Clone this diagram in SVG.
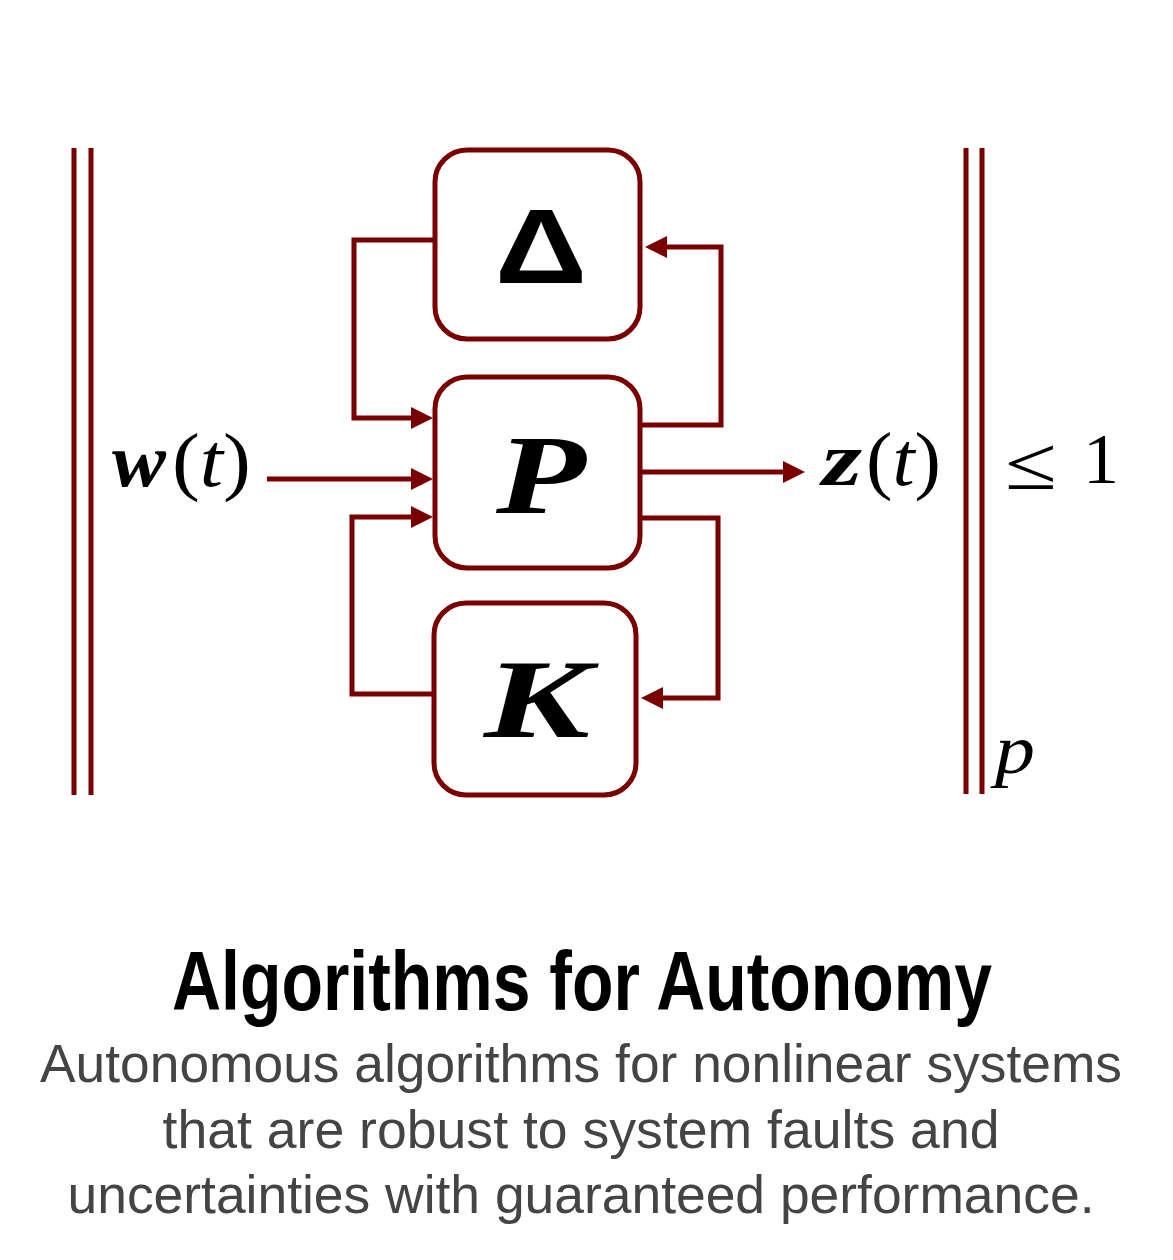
<svg xmlns="http://www.w3.org/2000/svg" width="1173" height="1260" viewBox="0 0 1173 1260">
<style>
.box{fill:#fff;stroke:#7a0000;stroke-width:5}
.bar{stroke:#7a0000;stroke-width:5;fill:none}
.con{fill:none;stroke:#7a0000;stroke-width:5;stroke-linejoin:miter}
.math{font-family:"Liberation Serif","DejaVu Serif",serif;fill:#000}
.bi{font-weight:bold;font-style:italic}
.title{font-family:"Liberation Sans",Arial,sans-serif;font-weight:bold;fill:#000}
.sub{font-family:"Liberation Sans",Arial,sans-serif;fill:#444}
</style>
<defs>
<marker id="arr" markerUnits="userSpaceOnUse" markerWidth="24" markerHeight="24" refX="12" refY="11" orient="auto">
<path d="M0,0 L22,11 L0,22 Z" fill="#7a0000"/>
</marker>
</defs>
<rect width="1173" height="1260" fill="#fff"/>

<g id="norm-bars">
<line class="bar" x1="74" y1="148" x2="74" y2="795"/>
<line class="bar" x1="91" y1="148" x2="91" y2="795"/>
<line class="bar" x1="966" y1="148" x2="966" y2="794"/>
<line class="bar" x1="982" y1="148" x2="982" y2="794"/>
</g>

<g id="connectors">
<path class="con" d="M435,240 L354,240 L354,418 L423,418" marker-end="url(#arr)"/>
<path class="con" d="M640,425 L721,425 L721,247 L655,247" marker-end="url(#arr)"/>
<path class="con" d="M267,479 L423,479" marker-end="url(#arr)"/>
<path class="con" d="M435,694 L352,694 L352,517 L423,517" marker-end="url(#arr)"/>
<path class="con" d="M638,518 L718,518 L718,698 L651,698" marker-end="url(#arr)"/>
<path class="con" d="M640,472 L795,472" marker-end="url(#arr)"/>
</g>

<g id="node-delta">
<rect class="box" x="435" y="150" width="205" height="189" rx="32"/>
<text x="495" y="283" class="title" font-size="106" textLength="92" lengthAdjust="spacingAndGlyphs">Δ</text>
</g>

<g id="node-P">
<rect class="box" x="435" y="377" width="205" height="191" rx="32"/>
<text x="496" y="513" class="math bi" font-size="112" textLength="90" lengthAdjust="spacingAndGlyphs">P</text>
</g>

<g id="node-K">
<rect class="box" x="434" y="603" width="202" height="192" rx="32"/>
<text x="484" y="737" class="math bi" font-size="112" textLength="106" lengthAdjust="spacingAndGlyphs">K</text>
</g>

<g id="label-w">
<text x="112" y="486" class="math bi" font-size="76" textLength="54" lengthAdjust="spacingAndGlyphs">w</text>
<text x="172" y="486" class="math" font-size="76" textLength="79" lengthAdjust="spacingAndGlyphs">(<tspan font-style="italic">t</tspan>)</text>
</g>

<g id="label-z">
<text x="822" y="485" class="math bi" font-size="76" textLength="40" lengthAdjust="spacingAndGlyphs">z</text>
<text x="866" y="485" class="math" font-size="76" textLength="75" lengthAdjust="spacingAndGlyphs">(<tspan font-style="italic">t</tspan>)</text>
</g>

<g id="label-leq">
<text x="1005" y="489" class="math" font-size="76" textLength="52" lengthAdjust="spacingAndGlyphs">≤</text>
<text x="1083" y="483" class="math" font-size="72">1</text>
</g>

<g id="label-p">
<text x="995" y="773" class="math" font-style="italic" font-size="70" textLength="40" lengthAdjust="spacingAndGlyphs">p</text>
</g>

<g id="caption">
<text x="582" y="1010" class="title" font-size="84" text-anchor="middle" textLength="820" lengthAdjust="spacingAndGlyphs">Algorithms for Autonomy</text>
<text x="581" y="1082" class="sub" font-size="54" text-anchor="middle" textLength="1082" lengthAdjust="spacingAndGlyphs">Autonomous algorithms for nonlinear systems</text>
<text x="581" y="1148" class="sub" font-size="54" text-anchor="middle" textLength="837" lengthAdjust="spacingAndGlyphs">that are robust to system faults and</text>
<text x="581" y="1213" class="sub" font-size="54" text-anchor="middle" textLength="1027" lengthAdjust="spacingAndGlyphs">uncertainties with guaranteed performance.</text>
</g>
</svg>
